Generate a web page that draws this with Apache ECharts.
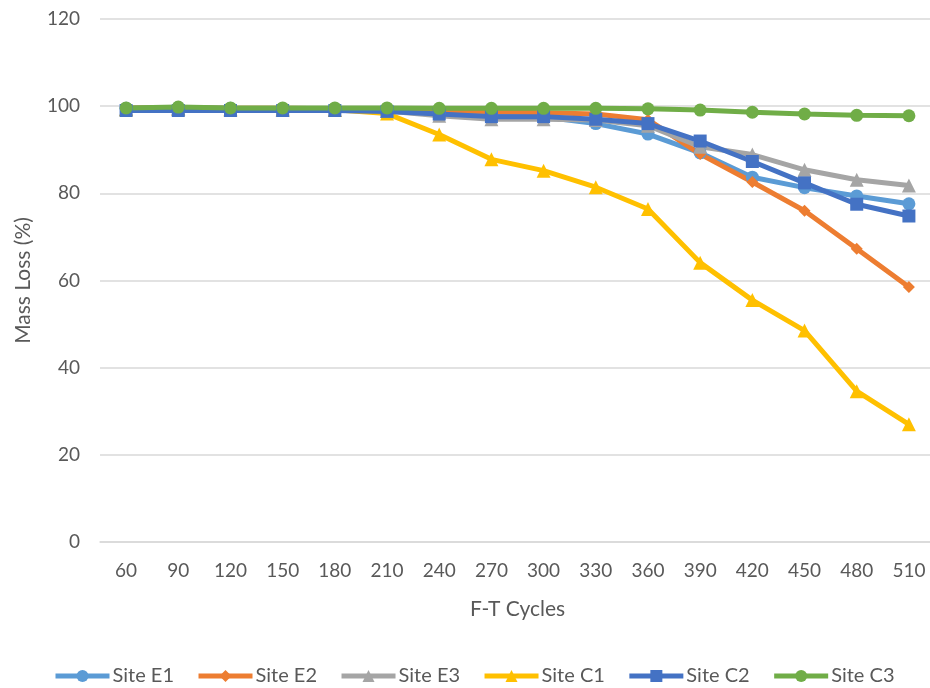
<!DOCTYPE html>
<html>
<head>
<meta charset="utf-8">
<script src="https://cdn.jsdelivr.net/npm/echarts@6/dist/echarts.min.js"></script>
<style>
  html, body { margin: 0; padding: 0; background: #ffffff; overflow: hidden; width: 930px; height: 688px; }
  /* the plot runs slightly past the right edge of the page */
  #chart { width: 935px; height: 688px; }
</style>
</head>
<body>
<div id="chart"></div>
<script>
// Freeze-thaw cycle counts (x categories)
const cycles = ['60', '90', '120', '150', '180', '210', '240', '270', '300', '330', '360', '390', '420', '450', '480', '510'];

// Remaining mass (%) per site
const siteE1 = [99.5, 99.7, 99.5, 99.4, 99.3, 99.0, 98.5, 98.0, 97.5, 96.0, 93.6, 89.3, 83.7, 81.3, 79.4, 77.6];
const siteE2 = [99.6, 99.6, 99.5, 99.5, 99.4, 99.3, 99.0, 98.8, 98.5, 98.2, 96.9, 89.0, 82.6, 76.0, 67.3, 58.5];
const siteE3 = [99.4, 99.5, 99.3, 99.2, 99.1, 98.9, 97.8, 97.0, 97.0, 96.8, 95.5, 90.7, 88.9, 85.4, 83.1, 81.8];
const siteC1 = [99.3, 99.4, 99.3, 99.3, 99.2, 98.3, 93.5, 87.8, 85.2, 81.4, 76.4, 64.1, 55.5, 48.5, 34.6, 27.0];
const siteC2 = [99.0, 99.0, 99.0, 99.0, 99.0, 98.8, 98.2, 97.6, 97.6, 97.0, 96.0, 92.0, 87.3, 82.4, 77.5, 74.8];
const siteC3 = [99.6, 99.8, 99.6, 99.6, 99.6, 99.6, 99.5, 99.5, 99.5, 99.5, 99.4, 99.1, 98.6, 98.2, 97.9, 97.8];

const seriesNames = ['Site E1', 'Site E2', 'Site E3', 'Site C1', 'Site C2', 'Site C3'];
const seriesData = [siteE1, siteE2, siteE3, siteC1, siteC2, siteC3];
const seriesColors = ['#5b9bd5', '#ed7d31', '#a5a5a5', '#ffc000', '#4472c4', '#70ad47'];
const seriesSymbols = ['circle', 'diamond', 'triangle', 'triangle', 'rect', 'circle'];
const symbolSizes = [13, 12, 14, 14, 13, 13];

const FONT = 'Lato, "Open Sans", sans-serif';
const TEXT_COLOR = '#595959';

const chart = echarts.init(document.getElementById('chart'), null, { renderer: 'canvas' });

chart.setOption({
  animation: false,
  backgroundColor: '#ffffff',
  textStyle: { fontFamily: FONT, color: TEXT_COLOR },
  grid: { left: 100, right: 0, top: 19, bottom: 146, containLabel: false },
  legend: {
    bottom: -3,
    left: 48,
    itemWidth: 54,
    itemHeight: 15,
    itemGap: 22,
    lineStyle: { width: 5 },
    textStyle: { fontFamily: FONT, fontSize: 20, color: TEXT_COLOR, padding: [0, 0, 0, -2] },
    data: seriesNames
  },
  xAxis: {
    type: 'category',
    data: cycles,
    boundaryGap: true,
    name: 'F-T Cycles',
    nameLocation: 'middle',
    nameGap: 57,
    nameTextStyle: { fontFamily: FONT, fontSize: 21, color: TEXT_COLOR },
    axisLine: { show: true, lineStyle: { color: '#d9d9d9', width: 1.5 } },
    axisTick: { show: false },
    axisLabel: { margin: 19, fontFamily: FONT, fontSize: 19, color: TEXT_COLOR },
    splitLine: { show: false }
  },
  yAxis: {
    type: 'value',
    min: 0,
    max: 120,
    interval: 20,
    name: 'Mass Loss (%)',
    nameLocation: 'middle',
    nameGap: 66,
    nameTextStyle: { fontFamily: FONT, fontSize: 21, color: TEXT_COLOR },
    axisLine: { show: false },
    axisTick: { show: false },
    axisLabel: { margin: 20, fontFamily: FONT, fontSize: 19, color: TEXT_COLOR },
    splitLine: { show: true, lineStyle: { color: '#d9d9d9', width: 1.5 } }
  },
  series: seriesNames.map((name, i) => ({
    name: name,
    type: 'line',
    data: seriesData[i],
    symbol: seriesSymbols[i],
    symbolSize: symbolSizes[i],
    showAllSymbol: true,
    lineStyle: { color: seriesColors[i], width: 5 },
    itemStyle: { color: seriesColors[i], borderWidth: 0 },
    emphasis: { disabled: true }
  }))
});
</script>
</body>
</html>
